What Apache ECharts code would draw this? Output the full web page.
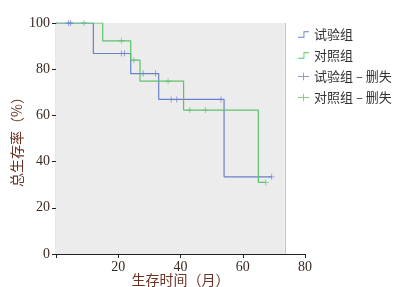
<!DOCTYPE html>
<html>
<head>
<meta charset="utf-8">
<script src="https://cdn.jsdelivr.net/npm/echarts@6/dist/echarts.min.js"></script>
<style>
  html, body { margin: 0; padding: 0; background: #fff; }
  #chart { width: 417px; height: 287px; }
</style>
</head>
<body>
<div id="chart"></div>
<script>
// step curves, [months, survival %]
var expCurve = [[0, 100], [12, 86.8], [24, 78.1], [33, 66.9], [54, 33.4], [69.3, 33.4]];
var ctrlCurve = [[0, 100], [15, 92.3], [24, 83.9], [27, 74.8], [41, 62.3], [65, 31.0], [67.4, 31.0]];
// censored points
var expCensor = [[4, 100], [4.7, 100], [21, 86.8], [22, 86.8], [28, 78.1], [32, 78.1], [37, 66.9], [38.8, 66.9], [53, 66.9], [69.3, 33.4]];
var ctrlCensor = [[9, 100], [21, 92.3], [25, 83.9], [36, 74.8], [43, 62.3], [48, 62.3], [67.4, 31.0]];

var names = ['试验组', '对照组', '试验组 – 删失', '对照组 – 删失'];
var blue = '#6a7fca';
var green = '#5cc36b';

var stepIcon = 'path://M0,8 L6,8 L6,2 L12,2 L12,3 L7,3 L7,9 L0,9 Z';
var plusIcon = 'path://M0,4.5 L12,4.5 L12,5.5 L0,5.5 Z M5.5,1 L6.5,1 L6.5,9 L5.5,9 Z';
var tickMark = 'path://M0,3 L7,3 L7,4 L0,4 Z M3,0 L4,0 L4,7 L3,7 Z';

var chart = echarts.init(document.getElementById('chart'));
chart.setOption({
  animation: false,
  textStyle: { fontFamily: '"Liberation Serif", "Noto Sans CJK SC", serif' },
  grid: { left: 56, right: 112, top: 23, bottom: 33, containLabel: false, outerBoundsMode: 'none' },
  legend: {
    orient: 'vertical',
    left: 293,
    top: 23,
    itemGap: 8,
    itemWidth: 11,
    itemHeight: 8,
    textStyle: { fontFamily: '"Noto Sans CJK SC", sans-serif', fontSize: 13, color: '#333' },
    data: [
      { name: names[0], icon: stepIcon },
      { name: names[1], icon: stepIcon },
      { name: names[2], icon: plusIcon },
      { name: names[3], icon: plusIcon }
    ]
  },
  xAxis: {
    type: 'value',
    min: 0, max: 80, interval: 20,
    name: '生存时间（月）',
    nameLocation: 'middle',
    nameGap: 19,
    nameMoveOverlap: false,
    nameTextStyle: { fontFamily: '"Noto Sans CJK SC", sans-serif', fontSize: 14, color: '#6b3325' },
    axisLine: { lineStyle: { color: '#222', width: 1.2 } },
    axisTick: { length: 4, lineStyle: { color: '#222' } },
    axisLabel: {
      fontSize: 14, color: '#3a2a22', margin: 6,
      formatter: function (v) { return v === 0 ? '' : v; }
    },
    splitLine: { show: false }
  },
  yAxis: {
    type: 'value',
    min: 0, max: 100, interval: 20,
    name: '总生存率（%）',
    nameLocation: 'middle',
    nameGap: 32,
    nameMoveOverlap: false,
    nameTextStyle: { fontFamily: '"Noto Sans CJK SC", sans-serif', fontSize: 14, color: '#6b3325' },
    axisLine: { show: true, lineStyle: { color: '#222', width: 1.2 } },
    axisTick: { show: true, length: 4, lineStyle: { color: '#222' } },
    axisLabel: { fontSize: 14, color: '#3a2a22', margin: 6 },
    splitLine: { show: false }
  },
  series: [
    {
      name: names[0], type: 'line', step: 'end', data: expCurve,
      showSymbol: false, symbol: 'none',
      lineStyle: { color: blue, width: 1.2 }, itemStyle: { color: blue },
      z: 3,
      markArea: {
        silent: true,
        itemStyle: { color: '#ececec' },
        data: [[{ xAxis: 0, yAxis: 0 }, { xAxis: 73.5, yAxis: 100 }]]
      },
      markLine: {
        silent: true, symbol: 'none',
        label: { show: false },
        lineStyle: { color: '#c6c6c6', type: 'solid', width: 1 },
        data: [[{ coord: [73.5, 0] }, { coord: [73.5, 100] }]]
      }
    },
    {
      name: names[1], type: 'line', step: 'end', data: ctrlCurve,
      showSymbol: false, symbol: 'none',
      lineStyle: { color: green, width: 1.2 }, itemStyle: { color: green },
      z: 3
    },
    {
      name: names[2], type: 'scatter', data: expCensor,
      symbol: tickMark, symbolSize: 6,
      itemStyle: { color: blue }, z: 4
    },
    {
      name: names[3], type: 'scatter', data: ctrlCensor,
      symbol: tickMark, symbolSize: 6,
      itemStyle: { color: green }, z: 4
    }
  ]
});
</script>
</body>
</html>
